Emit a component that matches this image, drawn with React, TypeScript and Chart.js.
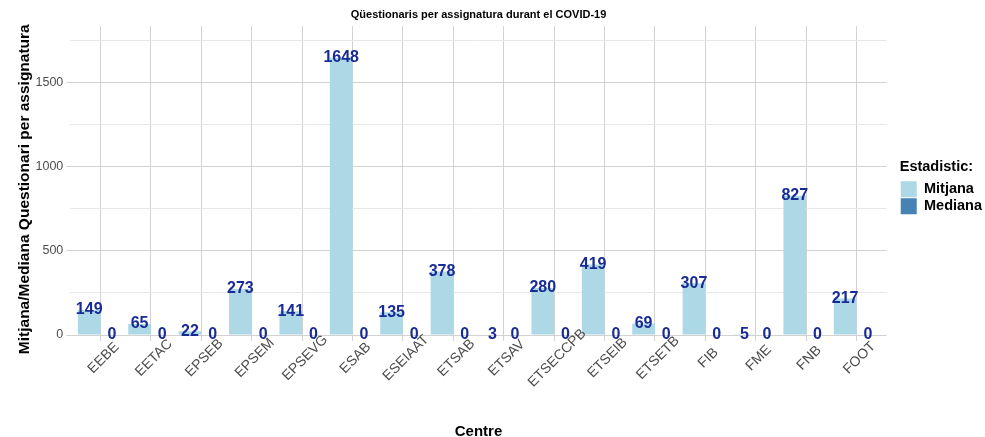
import React, { useEffect, useRef } from 'react';
import { Chart, registerables } from 'chart.js';

Chart.register(...registerables);

const categories = ['EEBE', 'EETAC', 'EPSEB', 'EPSEM', 'EPSEVG', 'ESAB', 'ESEIAAT', 'ETSAB', 'ETSAV', 'ETSECCPB', 'ETSEIB', 'ETSETB', 'FIB', 'FME', 'FNB', 'FOOT'];
const mitjana = [149, 65, 22, 273, 141, 1648, 135, 378, 3, 280, 419, 69, 307, 5, 827, 217];
const mediana = [0, 0, 0, 0, 0, 0, 0, 0, 0, 0, 0, 0, 0, 0, 0, 0];
const seriesNames = ['Mitjana', 'Mediana'];
const majorTicks = [0, 500, 1000, 1500];
const subtitleText = 'Qüestionaris per assignatura durant el COVID-19';
const yTitleText = 'Mitjana/Mediana Questionari per assignatura';
const xTitleText = 'Centre';
const legendTitleText = 'Estadistic:';

const FONT = "'Liberation Sans', Arial, Helvetica, sans-serif";
const MAJOR_GRID = '#d2d2d2';
const MINOR_GRID = '#e7e7e7';

const valueLabels = {
  id: 'valueLabels',
  afterDatasetsDraw(chart: any) {
    const ctx = chart.ctx;
    ctx.save();
    ctx.font = `bold 16px ${FONT}`;
    ctx.fillStyle = '#172a96';
    ctx.textAlign = 'center';
    ctx.textBaseline = 'middle';
    chart.data.datasets.forEach((ds: any, di: number) => {
      const meta = chart.getDatasetMeta(di);
      meta.data.forEach((el: any, i: number) => {
        ctx.fillText(String(ds.data[i]), el.x, el.y);
      });
    });
    ctx.restore();
  },
};

const xLabels = {
  id: 'xLabels',
  afterDraw(chart: any) {
    const s = chart.scales.x;
    const ctx = chart.ctx;
    ctx.save();
    ctx.font = `14px ${FONT}`;
    ctx.fillStyle = '#4d4d4d';
    ctx.textAlign = 'center';
    ctx.textBaseline = 'middle';
    s.ticks.forEach((_t: any, i: number) => {
      const x = s.getPixelForTick(i);
      ctx.save();
      ctx.translate(x + 3, chart.chartArea.bottom + 23);
      ctx.rotate(-Math.PI / 4);
      ctx.fillText(String(chart.data.labels[i]), 0, 0);
      ctx.restore();
    });
    ctx.restore();
  },
};

export default function App() {
  const ref = useRef<HTMLCanvasElement | null>(null);
  useEffect(() => {
    if (!ref.current) return;
    const chart = new Chart(ref.current, {
      type: 'bar',
      data: {
        labels: categories,
        datasets: [
          { label: seriesNames[0], data: mitjana, backgroundColor: '#add8e6', borderWidth: 0 },
          { label: seriesNames[1], data: mediana, backgroundColor: '#4682b4', borderWidth: 0 },
        ],
      },
      options: {
        animation: false,
        responsive: false,
        devicePixelRatio: 1,
        layout: { padding: { left: 10, right: -7, top: 0, bottom: -2 } },
        datasets: { bar: { categoryPercentage: 0.9, barPercentage: 1.0 } },
        scales: {
          x: {
            type: 'category',
            offset: true,
            afterBuildTicks: (scale: any) => {
              scale._startValue = -0.6;
              scale._valueRange = categories.length - 1 + 1.2;
            },
            grid: { display: true, offset: false, color: MAJOR_GRID, lineWidth: 1, drawTicks: true, tickLength: 6, tickColor: MAJOR_GRID },
            border: { display: false },
            ticks: { display: false },
            title: {
              display: true,
              text: xTitleText,
              color: '#000',
              font: { family: FONT, size: 15, weight: 'bold', lineHeight: 1 },
              padding: { top: 83, bottom: 0 },
            },
          },
          y: {
            min: 0,
            max: 1835,
            border: { display: false },
            grid: {
              color: (c: any) => (majorTicks.includes(c.tick?.value) ? MAJOR_GRID : MINOR_GRID),
              tickColor: (c: any) => (majorTicks.includes(c.tick?.value) ? MAJOR_GRID : 'rgba(0,0,0,0)'),
              lineWidth: 1,
              drawTicks: true,
              tickLength: 4,
            },
            ticks: {
              stepSize: 250,
              includeBounds: false,
              padding: 3,
              color: '#4d4d4d',
              font: { family: FONT, size: 12.5 },
              callback: (v: any) => (majorTicks.includes(Number(v)) ? String(v) : ''),
            },
            title: {
              display: true,
              text: yTitleText + '    ',
              color: '#000',
              font: { family: FONT, size: 15.5, weight: 'bold', lineHeight: 1 },
              padding: { top: 7, bottom: 0 },
            },
          },
          gap: {
            type: 'linear',
            position: 'right',
            display: true,
            grid: { display: false },
            border: { display: false },
            ticks: { display: false },
            afterFit: (s: any) => { s.width = 13; },
          },
        } as any,
        plugins: {
          title: {
            display: true,
            text: subtitleText,
            color: '#000',
            fullSize: false,
            font: { family: FONT, size: 11, weight: 'bold' },
            padding: { top: 8, bottom: 5 },
          },
          legend: {
            position: 'right',
            align: 'center',
            fullSize: false,
            title: {
              display: true,
              text: legendTitleText,
              color: '#000',
              position: 'start',
              font: { family: FONT, size: 14.5, weight: 'bold' },
              padding: { top: 14, bottom: 3 },
            },
            labels: {
              boxWidth: 16,
              boxHeight: 16,
              padding: 1,
              color: '#000',
              font: { family: FONT, size: 14.5, weight: 'bold' },
            },
          },
          tooltip: { enabled: false },
        },
      } as any,
      plugins: [valueLabels, xLabels],
    });
    return () => chart.destroy();
  }, []);
  return (
    <div style={{ position: 'fixed', left: 0, top: 0, width: 985, height: 437, background: '#fff' }}>
      <canvas ref={ref} width={985} height={437} />
    </div>
  );
}
